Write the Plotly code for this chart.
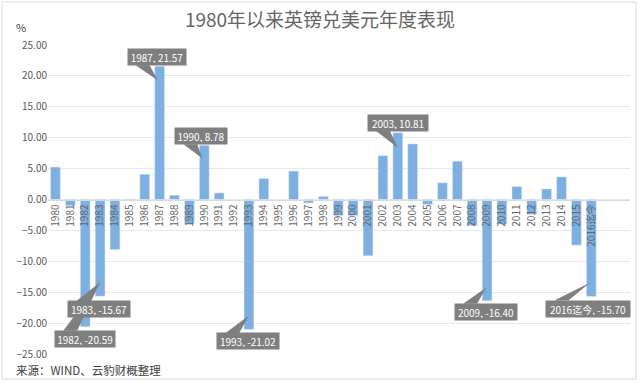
import plotly.graph_objects as go

# ---------------- data ----------------
years = ['1980', '1981', '1982', '1983', '1984', '1985', '1986', '1987', '1988', '1989',
         '1990', '1991', '1992', '1993', '1994', '1995', '1996', '1997', '1998', '1999',
         '2000', '2001', '2002', '2003', '2004', '2005', '2006', '2007', '2008', '2009',
         '2010', '2011', '2012', '2013', '2014', '2015', '2016迄今']
values = [5.25, -1.0, -20.59, -15.67, -8.1, -0.2, 4.1, 21.57, 0.7, -3.9,
          8.78, 1.07, 0.0, -21.02, 3.4, 0.0, 4.6, -0.55, 0.5, -2.6,
          -2.6, -9.1, 7.1, 10.81, 9.0, -0.8, 2.7, 6.2, -4.2, -16.40,
          -4.0, 2.1, -2.4, 1.7, 3.66, -7.4, -15.70]
y_ticks = [-25, -20, -15, -10, -5, 0, 5, 10, 15, 20, 25]
callout_years = ['1982', '1983', '1987', '1990', '1993', '2003', '2009', '2016迄今']

title_text = '1980年以来英镑兑美元年度表现'
unit_text = '%'
source_text = '来源：WIND、云豹财概整理'

# ---------------- styles / positions (pixels, screen-down positive) ----------------
# box centre offset from bar end, wedge tip offset from bar end, box width
callout_style = {
    '1982': dict(box=(0, 12), tip=(15, -45), w=60),
    '1983': dict(box=(-1, 13), tip=(0, -14), w=62),
    '1987': dict(box=(-3, -9), tip=(-2, 14), w=58),
    '1990': dict(box=(-3, -9), tip=(-2, 13), w=52),
    '1993': dict(box=(-1, 12), tip=(0, -14), w=62),
    '2003': dict(box=(0, -10), tip=(0, 15), w=60),
    '2009': dict(box=(-1, 11), tip=(-1, -13), w=62),
    '2016迄今': dict(box=(-3, 12), tip=(-1, -14), w=84),
}
BOX_H = 16
BOX_COLOR = '#7F7F7F'
BAR_COLOR = '#7DB0E1'
FONT = 'Noto Sans CJK SC, sans-serif'

W, H = 640, 384
ML, MR, MT, MB = 48, 10, 45, 30
PW, PH = W - ML - MR, H - MT - MB

x_idx = list(range(len(years)))

fig = go.Figure(go.Bar(x=x_idx, y=values, marker_color=BAR_COLOR, width=0.66,
                       hoverinfo='skip'))

shapes = []
annotations = []
for yr in callout_years:
    i = years.index(yr)
    v = values[i]
    st = callout_style[yr]
    bdx, bdy = st['box']
    tdx, tdy = st['tip']
    w = st['w']
    label = f"{yr}, {v:.2f}"
    annotations.append(dict(
        x=i, y=v, xref='x', yref='y', text=label, showarrow=False,
        xshift=bdx, yshift=-bdy, width=w - 4, height=BOX_H - 4, borderpad=2,
        bgcolor=BOX_COLOR, font=dict(family=FONT, size=10, color='white'),
        xanchor='center', yanchor='middle'))
    # wedge: base on box edge facing the tip
    left = bdx - w / 2
    edge = bdy - BOX_H / 2 if tdy < bdy else bdy + BOX_H / 2
    b1, b2 = left + 8, left + 22
    path = f"M{b1},{-edge} L{b2},{-edge} L{tdx},{-tdy} Z"
    shapes.append(dict(type='path', xref='x', yref='y', xsizemode='pixel', ysizemode='pixel',
                       xanchor=i, yanchor=v, path=path, fillcolor=BOX_COLOR,
                       line=dict(width=0), layer='above'))


def px2paper_x(px):
    return (px - ML) / PW


def px2paper_y(py):
    return (H - MB - py) / PH


# outer border
shapes.append(dict(type='rect', xref='paper', yref='paper',
                   x0=px2paper_x(2), x1=px2paper_x(636), y0=px2paper_y(379), y1=px2paper_y(2),
                   line=dict(color='#D9D9D9', width=1), fillcolor='rgba(0,0,0,0)', layer='below'))

annotations.append(dict(text=unit_text, xref='paper', yref='paper', x=px2paper_x(21), y=px2paper_y(27),
                        showarrow=False, xanchor='center', yanchor='middle',
                        font=dict(family=FONT, size=11, color='#404040')))
annotations.append(dict(text=source_text, xref='paper', yref='paper', x=px2paper_x(14), y=px2paper_y(370),
                        showarrow=False, xanchor='left', yanchor='middle',
                        font=dict(family=FONT, size=11.5, color='#404040')))

fig.update_layout(
    width=W, height=H,
    margin=dict(l=ML, r=MR, t=MT, b=MB),
    paper_bgcolor='white', plot_bgcolor='white',
    showlegend=False,
    title=dict(text=title_text, x=0.5, xref='container', xanchor='center',
               y=1 - 20 / H, yref='container', yanchor='middle',
               font=dict(family=FONT, size=19, color='#666666')),
    xaxis=dict(range=[-0.5, 38.6], tickmode='array', tickvals=x_idx, ticktext=years,
               tickangle=-90, anchor='free', position=0.5, showline=True,
               linecolor='#D9D9D9', linewidth=1, showgrid=False, zeroline=False, ticks='',
               tickfont=dict(family=FONT, size=10, color='#666666')),
    yaxis=dict(range=[-25, 25], tickmode='array', tickvals=y_ticks, tickformat='.2f',
               showgrid=True, gridcolor='#E8E8E8', zeroline=False, showline=False, ticks='',
               tickfont=dict(family=FONT, size=10, color='#595959'), domain=[0, 1]),
    shapes=shapes,
    annotations=annotations,
    bargap=0.33,
)

fig.write_html("out.html", config={'displayModeBar': False},
               post_script="document.body.style.margin='0';")
